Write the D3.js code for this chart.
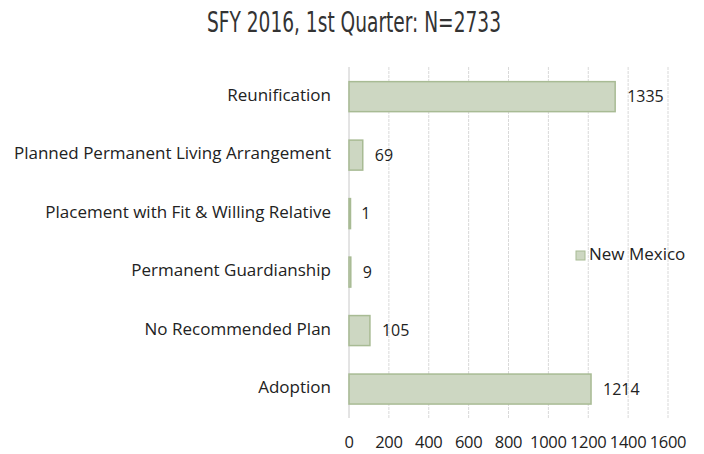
<!DOCTYPE html>
<html><head><meta charset="utf-8">
<script src="https://cdn.jsdelivr.net/npm/d3@7/dist/d3.min.js"></script>
<style>body{margin:0;background:#fff;} svg{display:block;}</style>
</head><body>
<svg id="c" width="704" height="454"></svg>
<script>
const categories = ["Reunification","Planned Permanent Living Arrangement","Placement with Fit & Willing Relative","Permanent Guardianship","No Recommended Plan","Adoption"];
const values = [1335, 69, 1, 9, 105, 1214];
const xTicks = [0,200,400,600,800,1000,1200,1400,1600];
const seriesName = "New Mexico";
const title = "SFY 2016, 1st Quarter: N=2733";

const svg = d3.select("#c");
const x = d3.scaleLinear().domain([0,1600]).range([349,668]);
const y = d3.scaleBand().domain(categories).range([67.4,418.3]).paddingInner(0.487).paddingOuter(0.2435);
const font = "'Open Sans', 'DejaVu Sans', sans-serif";

// gridlines
svg.append("g").selectAll("line").data(xTicks).join("line")
  .attr("x1",d=>x(d)).attr("x2",d=>x(d)).attr("y1",67).attr("y2",418)
  .attr("stroke",d=>d===0?"#c8c8c8":"#d9d9d9").attr("stroke-width",1)
  .attr("stroke-dasharray",d=>d===0?null:"3,1");

// bars
svg.append("g").selectAll("rect").data(categories).join("rect")
  .attr("x",x(0)).attr("y",d=>y(d))
  .attr("width",(d,i)=>Math.max(1.5,x(values[i])-x(0)))
  .attr("height",y.bandwidth())
  .attr("fill","#cdd7c2").attr("stroke","#a8bb94").attr("stroke-width",1.5);

// value labels
svg.append("g").selectAll("text").data(categories).join("text")
  .attr("x",(d,i)=>x(values[i])+12).attr("y",d=>y(d)+y.bandwidth()/2)
  .attr("dy","0.35em").attr("font-family",font).attr("font-size",16).attr("fill","#222")
  .text((d,i)=>values[i]);

// category labels
svg.append("g").selectAll("text").data(categories).join("text")
  .attr("x",331).attr("y",d=>y(d)+y.bandwidth()/2-2)
  .attr("dy","0.35em").attr("text-anchor","end")
  .attr("font-family",font).attr("font-size",17).attr("fill","#222")
  .text(d=>d);

// x tick labels
svg.append("g").selectAll("text").data(xTicks).join("text")
  .attr("x",d=>x(d)).attr("y",442).attr("dy","0.35em").attr("text-anchor","middle")
  .attr("font-family",font).attr("font-size",16.5).attr("fill","#222").attr("letter-spacing","-0.3")
  .text(d=>d);

// legend
svg.append("rect").attr("x",576).attr("y",251).attr("width",9).attr("height",9)
  .attr("fill","#cdd7c2").attr("stroke","#a8bb94");
svg.append("text").attr("x",589).attr("y",254).attr("dy","0.35em")
  .attr("font-family",font).attr("font-size",17).attr("fill","#222").text(seriesName);

// title
svg.append("text").attr("x",354).attr("y",32)
  .attr("font-family","'DejaVu Sans Condensed','Liberation Sans Narrow',sans-serif")
  .attr("font-size",28).attr("fill","#333")
  .attr("textLength",294).attr("lengthAdjust","spacingAndGlyphs").attr("text-anchor","middle")
  .text(title);
</script>
</body></html>
